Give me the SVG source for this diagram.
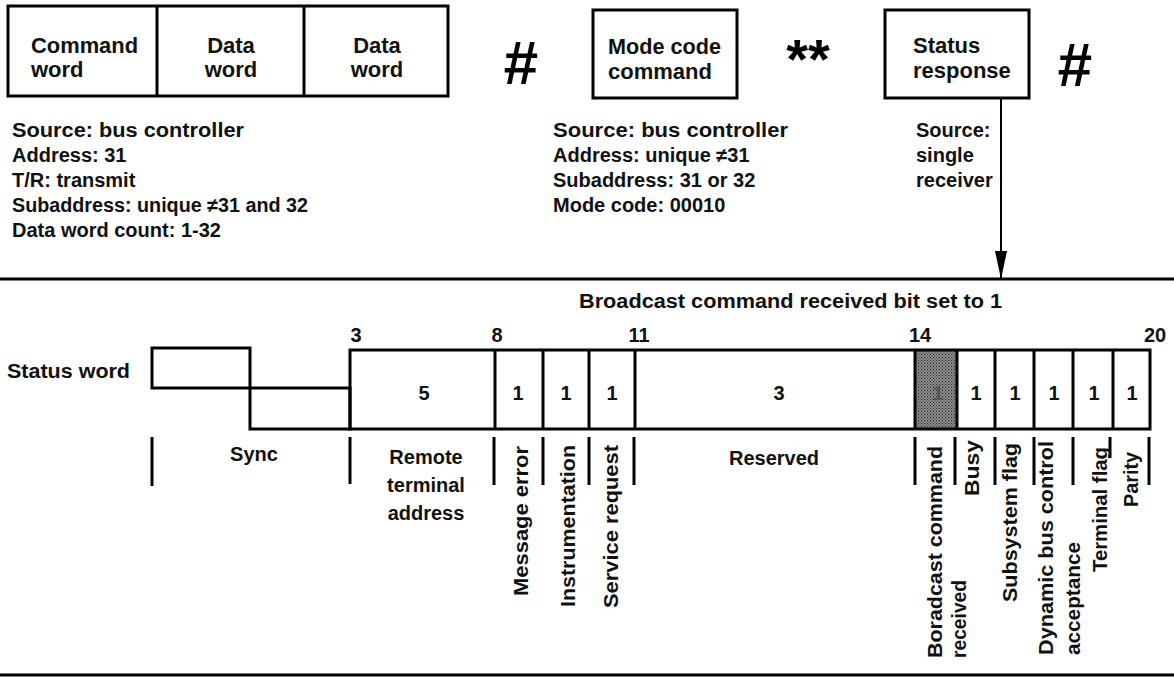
<svg xmlns="http://www.w3.org/2000/svg" width="1174" height="677" viewBox="0 0 1174 677">
<defs>
<style>
.t{font-family:"Liberation Sans",Arial,Helvetica,sans-serif;font-weight:bold;font-size:20px;fill:#111}
.b{font-size:22px}
.r{font-size:21px}
.c{text-anchor:middle}
.e{text-anchor:end}
.box{fill:#fff;stroke:#000;stroke-width:3}
.ln{stroke:#000;stroke-width:3;fill:none}
.sym{font-family:"Liberation Sans",Arial,sans-serif;font-weight:bold;fill:#000;text-anchor:middle}
</style>
<pattern id="stip" width="3" height="3" patternUnits="userSpaceOnUse">
<rect width="3" height="3" fill="#8c8c8c"/>
<rect x="0" y="0" width="1" height="1" fill="#222"/>
<rect x="1.5" y="1.5" width="1" height="1" fill="#333"/>
</pattern>
<marker id="ah" viewBox="0 0 28 12" refX="28" refY="6" markerWidth="28" markerHeight="12" markerUnits="userSpaceOnUse" orient="auto">
<path d="M0,0 L28,6 L0,12 Z" fill="#000"/>
</marker>
</defs>
<rect width="1174" height="677" fill="#fff"/>

<g id="msg-bc-rt">
<rect class="box" x="8" y="6" width="440" height="90"/>
<line class="ln" x1="157" y1="6" x2="157" y2="96"/>
<line class="ln" x1="304" y1="6" x2="304" y2="96"/>
<text class="t b" x="31" y="53" textLength="107" lengthAdjust="spacingAndGlyphs">Command</text>
<text class="t b" x="31" y="77">word</text>
<text class="t b c" x="231" y="53">Data</text>
<text class="t b c" x="231" y="77">word</text>
<text class="t b c" x="377" y="53">Data</text>
<text class="t b c" x="377" y="77">word</text>
</g>
<g id="gap1"><text class="sym" x="520" y="84" font-size="62" font-style="italic">#</text></g>
<g id="mode-code">
<rect class="box" x="593" y="10" width="144" height="88"/>
<text class="t b" x="608" y="54" textLength="113" lengthAdjust="spacingAndGlyphs">Mode code</text>
<text class="t b" x="608" y="79">command</text>
</g>
<g id="resp-time"><text class="sym" x="808" y="78" font-size="56">**</text></g>
<g id="status-response">
<rect class="box" x="885" y="10" width="144" height="88"/>
<text class="t b" x="913" y="53">Status</text>
<text class="t b" x="913" y="78">response</text>
</g>
<g id="gap2"><text class="sym" x="1074" y="86" font-size="62" font-style="italic">#</text></g>

<g id="notes-bc">
<text class="t" x="12" y="137" textLength="232" lengthAdjust="spacingAndGlyphs">Source:  bus controller</text>
<text class="t" x="12" y="162">Address:  31</text>
<text class="t" x="12" y="187">T/R:  transmit</text>
<text class="t" x="12" y="212" textLength="296" lengthAdjust="spacingAndGlyphs">Subaddress:  unique ≠31 and 32</text>
<text class="t" x="12" y="237">Data word count:  1-32</text>
</g>
<g id="notes-mode">
<text class="t" x="553" y="137" textLength="235" lengthAdjust="spacingAndGlyphs">Source:  bus controller</text>
<text class="t" x="553" y="162">Address:  unique ≠31</text>
<text class="t" x="553" y="187">Subaddress:  31 or 32</text>
<text class="t" x="553" y="212">Mode code:  00010</text>
</g>
<g id="notes-status">
<text class="t" x="916" y="137">Source:</text>
<text class="t" x="916" y="162">single</text>
<text class="t" x="916" y="187">receiver</text>
</g>

<g id="separators">
<line class="ln" x1="0" y1="279" x2="1174" y2="279"/>
<line class="ln" x1="0" y1="675" x2="1174" y2="675"/>
</g>

<g id="connectors">
<line x1="1001" y1="99" x2="1001" y2="279" stroke="#000" stroke-width="2" marker-end="url(#ah)"/>
</g>

<g id="status-word">
<text class="t" x="579" y="308" textLength="423" lengthAdjust="spacingAndGlyphs">Broadcast command received bit set to 1</text>
<text class="t c" x="356" y="342">3</text>
<text class="t c" x="497" y="342">8</text>
<text class="t c" x="639" y="342">11</text>
<text class="t c" x="920" y="342">14</text>
<text class="t c" x="1155" y="342">20</text>
<text class="t" x="7" y="378" textLength="123" lengthAdjust="spacingAndGlyphs">Status word</text>
<rect x="915" y="350" width="42" height="79" fill="url(#stip)"/>
<text class="t c" x="938" y="400" style="fill:#555">1</text>
<path class="ln" d="M152,348 H250 V388 H152 Z"/>
<path class="ln" d="M250,388 V429 H350 V388 H250"/>
<rect x="350" y="350" width="800" height="79" fill="none" stroke="#000" stroke-width="3"/>
<g class="ln">
<line x1="495" y1="350" x2="495" y2="429"/>
<line x1="543" y1="350" x2="543" y2="429"/>
<line x1="589" y1="350" x2="589" y2="429"/>
<line x1="635" y1="350" x2="635" y2="429"/>
<line x1="915" y1="350" x2="915" y2="429"/>
<line x1="957" y1="350" x2="957" y2="429"/>
<line x1="995" y1="350" x2="995" y2="429"/>
<line x1="1034" y1="350" x2="1034" y2="429"/>
<line x1="1073" y1="350" x2="1073" y2="429"/>
<line x1="1113" y1="350" x2="1113" y2="429"/>
</g>
<text class="t c" x="424" y="400">5</text>
<text class="t c" x="518" y="400">1</text>
<text class="t c" x="566" y="400">1</text>
<text class="t c" x="612" y="400">1</text>
<text class="t c" x="779" y="400">3</text>
<text class="t c" x="976" y="400">1</text>
<text class="t c" x="1015" y="400">1</text>
<text class="t c" x="1054" y="400">1</text>
<text class="t c" x="1094" y="400">1</text>
<text class="t c" x="1132" y="400">1</text>
<g class="ln">
<line x1="152" y1="437" x2="152" y2="486"/>
<line x1="350" y1="437" x2="350" y2="484"/>
<line x1="494" y1="437" x2="494" y2="485"/>
<line x1="543" y1="437" x2="543" y2="485"/>
<line x1="589" y1="437" x2="589" y2="485"/>
<line x1="634" y1="437" x2="634" y2="485"/>
<line x1="915" y1="437" x2="915" y2="485"/>
<line x1="955" y1="437" x2="955" y2="485"/>
<line x1="995" y1="437" x2="995" y2="485"/>
<line x1="1034" y1="437" x2="1034" y2="485"/>
<line x1="1073" y1="437" x2="1073" y2="485"/>
<line x1="1110" y1="437" x2="1110" y2="458"/>
<line x1="1149" y1="437" x2="1149" y2="485"/>
</g>
<text class="t c" x="254" y="461">Sync</text>
<text class="t c" x="426" y="464">Remote</text>
<text class="t c" x="426" y="492">terminal</text>
<text class="t c" x="426" y="520">address</text>
<text class="t c" x="774" y="465">Reserved</text>
<text class="t r e" transform="translate(528,446) rotate(-90)" textLength="150" lengthAdjust="spacingAndGlyphs">Message error</text>
<text class="t r e" transform="translate(575,445) rotate(-90)" textLength="162" lengthAdjust="spacingAndGlyphs">Instrumentation</text>
<text class="t r e" transform="translate(618,445) rotate(-90)" textLength="163" lengthAdjust="spacingAndGlyphs">Service request</text>
<text class="t r" transform="translate(942,658) rotate(-90)" textLength="212" lengthAdjust="spacingAndGlyphs">Boradcast command</text>
<text class="t r" transform="translate(966,658) rotate(-90)" textLength="78" lengthAdjust="spacingAndGlyphs">received</text>
<text class="t r e" transform="translate(979,440) rotate(-90)" textLength="56" lengthAdjust="spacingAndGlyphs">Busy</text>
<text class="t r e" transform="translate(1017,443) rotate(-90)" textLength="159" lengthAdjust="spacingAndGlyphs">Subsystem flag</text>
<text class="t r" transform="translate(1053,655) rotate(-90)" textLength="214" lengthAdjust="spacingAndGlyphs">Dynamic bus control</text>
<text class="t r" transform="translate(1080,655) rotate(-90)" textLength="113" lengthAdjust="spacingAndGlyphs">acceptance</text>
<text class="t r e" transform="translate(1107,447) rotate(-90)" textLength="125" lengthAdjust="spacingAndGlyphs">Terminal flag</text>
<text class="t r e" transform="translate(1138,452) rotate(-90)" textLength="55" lengthAdjust="spacingAndGlyphs">Parity</text>
</g>
</svg>
